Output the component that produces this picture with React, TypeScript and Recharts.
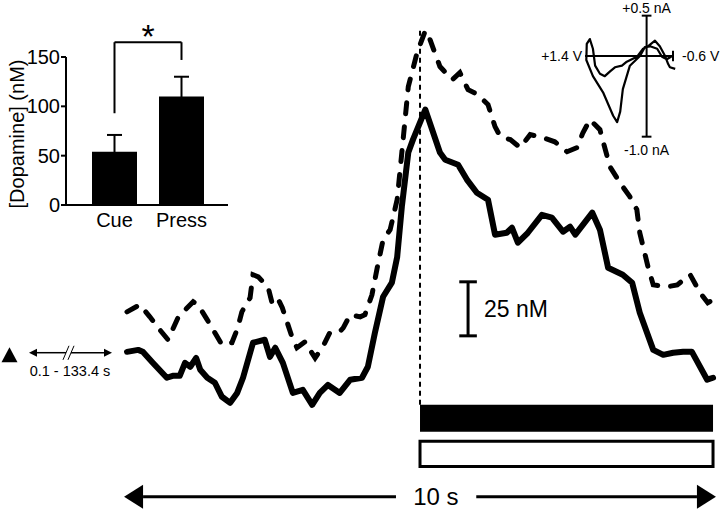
import React from "react";
import {
  LineChart,
  Line,
  XAxis,
  YAxis,
  ReferenceLine,
  ReferenceArea,
  ReferenceDot,
  BarChart,
  Bar,
  ErrorBar,
} from "recharts";

// main traces: time (s from lever press) and [DA] (nM, offset baseline)
const solidTime = [
  -5.0, -4.81, -4.73, -4.56, -4.32, -4.22, -4.1, -4.01, -3.92, -3.82, -3.75,
  -3.63, -3.5, -3.38, -3.24, -3.12, -3.02, -2.85, -2.65, -2.56, -2.47, -2.34,
  -2.17, -2.0, -1.84, -1.71, -1.57, -1.37, -1.19, -0.99, -0.89, -0.77, -0.63,
  -0.48, -0.39, -0.31, -0.2, -0.12, 0.09, 0.34, 0.43, 0.65, 0.8, 0.97, 1.16,
  1.28, 1.48, 1.57, 1.67, 1.84, 2.08, 2.25, 2.44, 2.56, 2.65, 2.94, 3.07, 3.21,
  3.46, 3.62, 3.75, 3.98, 4.15, 4.32, 4.49, 4.64, 4.9, 5.0,
];
const solidDA = [
  22.2, 23.1, 22.2, 17.1, 10.2, 11.1, 11.1, 17.1, 15.3, 19.4, 13.9, 10.2, 7.9,
  1.4, -1.4, 3.2, 10.2, 26.4, 27.8, 19.9, 24.1, 17.1, 3.2, 4.6, -2.3, 3.2, 6.9,
  3.2, 9.3, 10.2, 15.3, 31.0, 47.7, 54.2, 66.0, 89.4, 114.4, 120.4, 134.3,
  114.4, 111.1, 108.8, 101.9, 95.8, 92.6, 76.4, 77.3, 79.6, 72.7, 77.3, 85.6,
  84.3, 77.8, 80.1, 76.4, 86.6, 78.7, 61.1, 57.9, 54.2, 40.3, 23.1, 20.8, 21.8,
  22.2, 22.2, 9.3, 10.2,
];
const dashedTime = [
  -5.0, -4.78, -4.61, -4.44, -4.3, -4.13, -4.04, -3.87, -3.79, -3.63, -3.5,
  -3.38, -3.21, -3.11, -3.04, -2.9, -2.85, -2.76, -2.59, -2.53, -2.44, -2.35,
  -2.27, -2.18, -2.1, -1.96, -1.91, -1.79, -1.66, -1.54, -1.37, -1.31, -1.19,
  -1.02, -0.94, -0.82, -0.73, -0.63, -0.51, -0.39, -0.31, -0.2, -0.05, 0.09,
  0.17, 0.34, 0.55, 0.68, 0.82, 0.99, 1.16, 1.28, 1.37, 1.54, 1.71, 1.88, 2.1,
  2.3, 2.51, 2.68, 2.78, 2.9, 3.07, 3.24, 3.41, 3.58, 3.7, 3.75, 3.89, 3.98,
  4.22, 4.39, 4.61, 4.78, 4.91, 5.0,
];
const dashedDA = [
  40.7, 44.0, 38.4, 32.4, 27.8, 38.0, 40.7, 45.4, 44.0, 37.0, 31.0, 25.5, 26.4,
  33.3, 40.7, 47.2, 57.9, 56.9, 51.9, 45.4, 47.7, 42.6, 36.1, 28.7, 24.1, 26.9,
  24.5, 19.4, 24.5, 31.0, 31.5, 33.3, 39.4, 38.4, 39.4, 48.6, 61.1, 74.1, 78.7,
  92.6, 114.4, 144.9, 160.6, 170.8, 166.7, 154.2, 148.1, 151.4, 143.5, 141.2,
  136.6, 126.4, 121.8, 120.4, 116.7, 122.7, 121.3, 119.4, 114.8, 116.7, 123.6,
  129.6, 125.0, 107.9, 100.5, 94.0, 88.0, 77.3, 61.6, 53.2, 52.3, 53.2, 57.9,
  49.5, 44.9, 46.3,
];

// inset bar graph
const barCategories = ["Cue", "Press"];
const barMeans = [54, 110];
const barSEM = [17, 20];
const barTicks = [0, 50, 100, 150];

// inset cyclic voltammogram: potential (V) and current (nA)
const cvPotential = [
  -0.58, -0.46, -0.35, -0.24, -0.08, 0.04, 0.15, 0.38, 0.54, 0.6, 0.67, 0.76,
  0.99, 1.22, 1.37, 1.36, 1.29, 1.22, 1.17, 1.06, 0.95, 0.83, 0.72, 0.56, 0.45,
  0.22, 0.08, -0.03, -0.19, -0.3, -0.42, -0.49, -0.53, -0.65,
];
const cvCurrent = [
  0, -0.04, -0.01, 0.09, 0.12, 0.11, 0, -0.12, -0.41, -0.69, -0.82, -0.74,
  -0.45, -0.25, -0.05, 0.15, 0.21, 0.09, -0.12, -0.22, -0.25, -0.19, -0.14,
  -0.12, -0.07, -0.01, 0.09, 0.12, 0.19, 0.12, 0, -0.1, -0.14, -0.16,
];

const solidData = solidTime.map((t, i) => ({ t, da: solidDA[i] }));
const dashedData = dashedTime.map((t, i) => ({ t, da: dashedDA[i] }));
const barData = barCategories.map((name, i) => ({
  name,
  mean: barMeans[i],
  sem: barSEM[i],
}));
const cvData = cvPotential.map((v, i) => ({ v, i: cvCurrent[i] }));

const FONT = "'Liberation Sans', Arial, sans-serif";

// line with a filled head at its end point
const arrowShape = (len: number, half: number, sw: number) => (props: any) => {
  const { x1, y1, x2, y2 } = props;
  const dx = x2 - x1;
  const dy = y2 - y1;
  const d = Math.hypot(dx, dy) || 1;
  const ux = dx / d;
  const uy = dy / d;
  const bx = x2 - ux * len;
  const by = y2 - uy * len;
  return (
    <g>
      <line x1={x1} y1={y1} x2={bx} y2={by} stroke="#000" strokeWidth={sw} />
      <polygon
        points={`${x2},${y2} ${bx - uy * half},${by + ux * half} ${bx + uy * half},${by - ux * half}`}
        fill="#000"
      />
    </g>
  );
};

const triangleShape = (props: any) => {
  const { cx, cy } = props;
  return (
    <polygon
      points={`${cx},${cy - 8} ${cx - 8},${cy + 7} ${cx + 8},${cy + 7}`}
      fill="#000"
    />
  );
};

function MainTraces() {
  return (
    <LineChart
      width={720}
      height={523}
      margin={{ top: 0, right: 0, bottom: 0, left: 0 }}
    >
      <XAxis
        dataKey="t"
        type="number"
        domain={[-7.167, 5.119]}
        allowDataOverflow
        hide
      />
      <YAxis type="number" domain={[-57, 185]} allowDataOverflow hide />

      {/* lever press marker */}
      <ReferenceLine
        segment={[
          { x: 0, y: -2.3 },
          { x: 0, y: 171 },
        ]}
        stroke="#000"
        strokeWidth={2}
        strokeDasharray="5 4"
      />

      <Line
        data={dashedData}
        dataKey="da"
        type="linear"
        stroke="#000"
        strokeWidth={5}
        strokeDasharray="11 13"
        strokeLinecap="round"
        dot={false}
        isAnimationActive={false}
      />
      <Line
        data={solidData}
        dataKey="da"
        type="linear"
        stroke="#000"
        strokeWidth={6}
        strokeLinejoin="round"
        strokeLinecap="round"
        dot={false}
        isAnimationActive={false}
      />

      {/* 25 nM scale bar */}
      <ReferenceLine
        segment={[
          { x: 0.82, y: 29.6 },
          { x: 0.82, y: 54.6 },
        ]}
        stroke="#000"
        strokeWidth={3}
        label={{
          value: "25 nM",
          position: "right",
          offset: 16,
          fontSize: 23,
          fill: "#000",
        }}
      />
      <ReferenceLine
        segment={[
          { x: 0.67, y: 54.6 },
          { x: 0.97, y: 54.6 },
        ]}
        stroke="#000"
        strokeWidth={3}
      />
      <ReferenceLine
        segment={[
          { x: 0.67, y: 29.6 },
          { x: 0.97, y: 29.6 },
        ]}
        stroke="#000"
        strokeWidth={3}
      />

      {/* cue / response bars */}
      <ReferenceArea
        x1={0}
        x2={5}
        y1={-14.8}
        y2={-2.3}
        fill="#000"
        fillOpacity={1}
        stroke="none"
      />
      <ReferenceArea
        x1={0}
        x2={5}
        y1={-30.8}
        y2={-19.2}
        fill="#fff"
        fillOpacity={1}
        stroke="#000"
        strokeWidth={3}
      />

      {/* 10 s time arrow */}
      <ReferenceLine
        segment={[
          { x: -0.41, y: -44.9 },
          { x: -5.05, y: -44.9 },
        ]}
        shape={arrowShape(19, 12, 3)}
      />
      <ReferenceLine
        segment={[
          { x: 0.96, y: -44.9 },
          { x: 5.05, y: -44.9 },
        ]}
        shape={arrowShape(19, 12, 3)}
      />
      <ReferenceDot
        x={0.27}
        y={-44.9}
        r={0}
        stroke="none"
        label={{ value: "10 s", position: "center", fontSize: 24, fill: "#000" }}
      />

      {/* baseline-interval marker at left */}
      <ReferenceDot x={-7.005} y={20.6} r={8} shape={triangleShape} />
      <ReferenceLine
        segment={[
          { x: -6.04, y: 21.8 },
          { x: -6.672, y: 21.8 },
        ]}
        shape={arrowShape(8, 4, 1.5)}
      />
      <ReferenceLine
        segment={[
          { x: -5.956, y: 21.8 },
          { x: -5.256, y: 21.8 },
        ]}
        shape={arrowShape(8, 4, 1.5)}
      />
      <ReferenceLine
        segment={[
          { x: -6.092, y: 18.5 },
          { x: -5.99, y: 25.0 },
        ]}
        stroke="#000"
        strokeWidth={1}
      />
      <ReferenceLine
        segment={[
          { x: -6.007, y: 18.5 },
          { x: -5.904, y: 25.0 },
        ]}
        stroke="#000"
        strokeWidth={1}
      />
      <ReferenceDot
        x={-5.973}
        y={13.6}
        r={0}
        stroke="none"
        label={{
          value: "0.1 - 133.4 s",
          position: "center",
          fontSize: 14.5,
          fill: "#000",
        }}
      />
    </LineChart>
  );
}

function BarInset() {
  return (
    <BarChart
      width={240}
      height={240}
      data={barData}
      margin={{ top: 57, right: 12, bottom: 5, left: 26 }}
    >
      <XAxis
        dataKey="name"
        height={30}
        padding={{ left: 15, right: 13 }}
        axisLine={{ stroke: "#000", strokeWidth: 2 }}
        tickLine={false}
        tick={{ fill: "#000", fontSize: 20 }}
        interval={0}
      />
      <YAxis
        width={40}
        domain={[0, 150]}
        ticks={barTicks}
        axisLine={{ stroke: "#000", strokeWidth: 2 }}
        tickLine={{ stroke: "#000", strokeWidth: 2 }}
        tickSize={5}
        tickMargin={1}
        tick={{ fill: "#000", fontSize: 20 }}
        label={{
          value: "[Dopamine] (nM)",
          angle: -90,
          position: "center",
          dx: -29,
          dy: 3,
          fontSize: 20,
          fill: "#000",
        }}
      />
      <Bar dataKey="mean" fill="#000" barSize={45} isAnimationActive={false}>
        <ErrorBar
          dataKey="sem"
          direction="y"
          width={7.5}
          stroke="#000"
          strokeWidth={2}
          isAnimationActive={false}
        />
      </Bar>
      {/* significance bracket */}
      <ReferenceLine
        segment={[
          { x: "Cue", y: 93 },
          { x: "Cue", y: 165 },
        ]}
        ifOverflow="visible"
        stroke="#000"
        strokeWidth={2}
      />
      <ReferenceLine
        segment={[
          { x: "Cue", y: 165 },
          { x: "Press", y: 165 },
        ]}
        ifOverflow="visible"
        stroke="#000"
        strokeWidth={2}
        label={{ value: "*", position: "top", offset: -6, fontSize: 34, fill: "#000" }}
      />
      <ReferenceLine
        segment={[
          { x: "Press", y: 147 },
          { x: "Press", y: 165 },
        ]}
        ifOverflow="visible"
        stroke="#000"
        strokeWidth={2}
      />
    </BarChart>
  );
}

function CVInset() {
  return (
    <LineChart
      width={180}
      height={160}
      margin={{ top: 0, right: 0, bottom: 0, left: 0 }}
    >
      <XAxis
        dataKey="v"
        type="number"
        domain={[-1.668, 2.4227]}
        reversed
        allowDataOverflow
        hide
      />
      <YAxis type="number" domain={[-1.289, 0.694]} allowDataOverflow hide />
      <ReferenceLine
        segment={[
          { x: 1.4, y: 0 },
          { x: -0.6, y: 0 },
        ]}
        stroke="#000"
        strokeWidth={2}
      />
      <ReferenceLine
        segment={[
          { x: -0.6, y: -0.065 },
          { x: -0.6, y: 0.065 },
        ]}
        stroke="#000"
        strokeWidth={2}
      />
      <ReferenceLine
        segment={[
          { x: 0, y: 0.5 },
          { x: 0, y: -1.0 },
        ]}
        stroke="#000"
        strokeWidth={2}
      />
      <ReferenceLine
        segment={[
          { x: 0.11, y: 0.5 },
          { x: -0.11, y: 0.5 },
        ]}
        stroke="#000"
        strokeWidth={2}
        label={{ value: "+0.5 nA", position: "top", offset: 3, fontSize: 14, fill: "#000" }}
      />
      <ReferenceLine
        segment={[
          { x: 0.11, y: -1.0 },
          { x: -0.11, y: -1.0 },
        ]}
        stroke="#000"
        strokeWidth={2}
        label={{ value: "-1.0 nA", position: "bottom", offset: 8, fontSize: 14, fill: "#000" }}
      />
      <ReferenceDot
        x={1.4}
        y={0}
        r={0}
        stroke="none"
        label={{ value: "+1.4 V", position: "left", offset: 3, fontSize: 14, fill: "#000" }}
      />
      <ReferenceDot
        x={-0.6}
        y={0}
        r={0}
        stroke="none"
        label={{ value: "-0.6 V", position: "right", offset: 9, fontSize: 14, fill: "#000" }}
      />
      <Line
        data={cvData}
        dataKey="i"
        type="linear"
        stroke="#000"
        strokeWidth={2.2}
        strokeLinejoin="round"
        dot={false}
        isAnimationActive={false}
      />
    </LineChart>
  );
}

export default function App() {
  return (
    <div
      style={{
        position: "absolute",
        left: 0,
        top: 0,
        width: 720,
        height: 523,
        background: "#fff",
        fontFamily: FONT,
        overflow: "hidden",
      }}
    >
      <div style={{ position: "absolute", left: 0, top: 0 }}>
        <MainTraces />
      </div>
      <div style={{ position: "absolute", left: 0, top: 0 }}>
        <BarInset />
      </div>
      <div style={{ position: "absolute", left: 540, top: 0 }}>
        <CVInset />
      </div>
    </div>
  );
}
